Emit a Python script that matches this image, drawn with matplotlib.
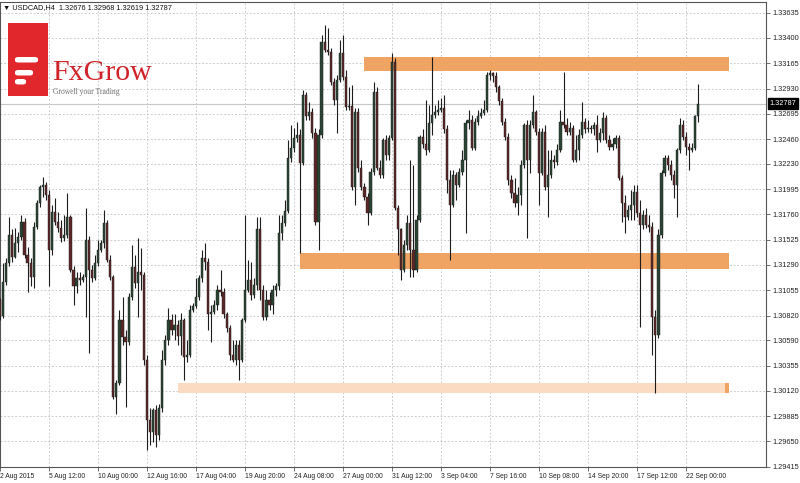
import matplotlib
matplotlib.use("Agg")
import matplotlib.pyplot as plt
import numpy as np
from matplotlib.patches import Rectangle, FancyBboxPatch

# ---- data ----
title_text = "\u25bc USDCAD,H4  1.32676 1.32968 1.32619 1.32787"
last_price = 1.32787

open_ = np.array([
    1.3096, 1.3082, 1.3113, 1.3131, 1.3157, 1.3136, 1.3149, 1.3155, 1.3169, 1.3138,
    1.3131, 1.3118, 1.3164, 1.3187, 1.3201, 1.3203, 1.3194, 1.3143, 1.3178, 1.3169,
    1.3163, 1.3154, 1.3157, 1.3174, 1.3124, 1.3109, 1.3117, 1.3115, 1.3118, 1.3152,
    1.3124, 1.3117, 1.3131, 1.3143, 1.3149, 1.3168, 1.3134, 1.3118, 1.3006, 1.3019,
    1.3078, 1.3062, 1.3057, 1.3099, 1.3127, 1.3112, 1.3122, 1.3120, 1.3041, 1.2985,
    1.2974, 1.2994, 1.2971, 1.2996, 1.3041, 1.3059, 1.3078, 1.3069, 1.3073, 1.3063,
    1.3078, 1.3043, 1.3045, 1.3087, 1.3091, 1.3099, 1.3117, 1.3135, 1.3132, 1.3083,
    1.3085, 1.3092, 1.3106, 1.3104, 1.3083, 1.3070, 1.3045, 1.3041, 1.3055, 1.3041,
    1.3078, 1.3106, 1.3115, 1.3101, 1.3110, 1.3162, 1.3106, 1.3081, 1.3096, 1.3092,
    1.3106, 1.3109, 1.3159, 1.3168, 1.3179, 1.3228, 1.3238, 1.3247, 1.3250, 1.3224,
    1.3287, 1.3267, 1.3271, 1.3252, 1.3169, 1.3250, 1.3336, 1.3329, 1.3327, 1.3299,
    1.3282, 1.3301, 1.3326, 1.3304, 1.3276, 1.3277, 1.3201, 1.3271, 1.3219, 1.3201,
    1.3192, 1.3177, 1.3215, 1.3290, 1.3219, 1.3213, 1.3245, 1.3231, 1.3247, 1.3318,
    1.3182, 1.3162, 1.3124, 1.3148, 1.3168, 1.3143, 1.3124, 1.3171, 1.3248, 1.3241,
    1.3236, 1.3261, 1.3268, 1.3271, 1.3273, 1.3275, 1.3255, 1.3208, 1.3185, 1.3213,
    1.3203, 1.3215, 1.3227, 1.3261, 1.3264, 1.3238, 1.3262, 1.3267, 1.3270, 1.3273,
    1.3306, 1.3307, 1.3305, 1.3294, 1.3281, 1.3262, 1.3248, 1.3208, 1.3196, 1.3187,
    1.3194, 1.3222, 1.3259, 1.3227, 1.3259, 1.3271, 1.3253, 1.3214, 1.3253, 1.3201,
    1.3213, 1.3227, 1.3225, 1.3236, 1.3262, 1.3259, 1.3253, 1.3256, 1.3227, 1.3236,
    1.3250, 1.3262, 1.3255, 1.3256, 1.3255, 1.3259, 1.3245, 1.3252, 1.3266, 1.3245,
    1.3239, 1.3241, 1.3247, 1.3210, 1.3187, 1.3174, 1.3180, 1.3185, 1.3197, 1.3177,
    1.3166, 1.3175, 1.3166, 1.3164, 1.3081, 1.3064, 1.3157, 1.3214, 1.3228, 1.3222,
    1.3213, 1.3203, 1.3236, 1.3259, 1.3248, 1.3239, 1.3236, 1.3238, 1.32676,
])
high = np.array([
    1.3098, 1.3131, 1.3135, 1.3174, 1.3162, 1.3163, 1.3160, 1.3175, 1.3173, 1.3146,
    1.3135, 1.3169, 1.3189, 1.3203, 1.3211, 1.3206, 1.3199, 1.3185, 1.3191, 1.3178,
    1.3171, 1.3175, 1.3196, 1.3175, 1.3128, 1.3122, 1.3122, 1.3121, 1.3182, 1.3156,
    1.3129, 1.3138, 1.3152, 1.3152, 1.3180, 1.3171, 1.3138, 1.3120, 1.3022, 1.3087,
    1.3099, 1.3069, 1.3103, 1.3148, 1.3138, 1.3154, 1.3145, 1.3122, 1.3045, 1.2996,
    1.2996, 1.2999, 1.3000, 1.3050, 1.3064, 1.3089, 1.3083, 1.3083, 1.3078, 1.3084,
    1.3080, 1.3059, 1.3092, 1.3094, 1.3117, 1.3120, 1.3143, 1.3149, 1.3135, 1.3092,
    1.3096, 1.3110, 1.3124, 1.3108, 1.3085, 1.3073, 1.3059, 1.3059, 1.3059, 1.3080,
    1.3175, 1.3134, 1.3132, 1.3117, 1.3174, 1.3174, 1.3110, 1.3106, 1.3104, 1.3110,
    1.3112, 1.3175, 1.3175, 1.3189, 1.3245, 1.3259, 1.3256, 1.3262, 1.3255, 1.3292,
    1.3290, 1.3280, 1.3275, 1.3256, 1.3255, 1.3343, 1.3352, 1.3349, 1.3331, 1.3303,
    1.3306, 1.3338, 1.3343, 1.3310, 1.3294, 1.3296, 1.3275, 1.3275, 1.3227, 1.3205,
    1.3196, 1.3219, 1.3299, 1.3294, 1.3227, 1.3247, 1.3250, 1.3250, 1.3326, 1.3321,
    1.3185, 1.3163, 1.3152, 1.3175, 1.3227, 1.3222, 1.3175, 1.3250, 1.3255, 1.3282,
    1.3278, 1.3322, 1.3278, 1.3282, 1.3284, 1.3287, 1.3259, 1.3217, 1.3217, 1.3215,
    1.3219, 1.3236, 1.3264, 1.3273, 1.3268, 1.3266, 1.3273, 1.3275, 1.3282, 1.3308,
    1.3310, 1.3308, 1.3308, 1.3296, 1.3284, 1.3266, 1.3252, 1.3213, 1.3210, 1.3201,
    1.3227, 1.3261, 1.3264, 1.3264, 1.3287, 1.3273, 1.3256, 1.3256, 1.3259, 1.3236,
    1.3236, 1.3231, 1.3241, 1.3273, 1.3308, 1.3266, 1.3262, 1.3259, 1.3250, 1.3255,
    1.3280, 1.3266, 1.3264, 1.3259, 1.3262, 1.3268, 1.3256, 1.3271, 1.3268, 1.3250,
    1.3247, 1.3250, 1.3250, 1.3213, 1.3194, 1.3185, 1.3199, 1.3203, 1.3203, 1.3189,
    1.3180, 1.3182, 1.3175, 1.3169, 1.3087, 1.3162, 1.3217, 1.3231, 1.3231, 1.3227,
    1.3217, 1.3238, 1.3266, 1.3264, 1.3253, 1.3242, 1.3242, 1.3268, 1.32968,
])
low = np.array([
    1.3078, 1.3080, 1.3110, 1.3128, 1.3132, 1.3135, 1.3141, 1.3152, 1.3135, 1.3104,
    1.3109, 1.3108, 1.3162, 1.3183, 1.3192, 1.3189, 1.3109, 1.3138, 1.3166, 1.3160,
    1.3150, 1.3151, 1.3154, 1.3122, 1.3092, 1.3103, 1.3110, 1.3113, 1.3081, 1.3047,
    1.3113, 1.3115, 1.3128, 1.3141, 1.3145, 1.3132, 1.3115, 1.3004, 1.2990, 1.3017,
    1.3055, 1.2997, 1.3055, 1.3096, 1.3108, 1.3081, 1.3106, 1.3036, 1.2957, 1.2962,
    1.2964, 1.2960, 1.2966, 1.2992, 1.3036, 1.3055, 1.3064, 1.3059, 1.3055, 1.3045,
    1.3022, 1.3039, 1.3043, 1.3085, 1.3089, 1.3096, 1.3113, 1.3124, 1.3069, 1.3057,
    1.3083, 1.3087, 1.3100, 1.3080, 1.3067, 1.3041, 1.3039, 1.3036, 1.3022, 1.3039,
    1.3076, 1.3104, 1.3096, 1.3098, 1.3106, 1.3096, 1.3078, 1.3078, 1.3087, 1.3083,
    1.3100, 1.3106, 1.3152, 1.3165, 1.3177, 1.3225, 1.3234, 1.3243, 1.3140, 1.3222,
    1.3264, 1.3264, 1.3247, 1.3166, 1.3143, 1.3247, 1.3327, 1.3324, 1.3296, 1.3278,
    1.3252, 1.3299, 1.3301, 1.3273, 1.3273, 1.3199, 1.3185, 1.3215, 1.3199, 1.3189,
    1.3166, 1.3175, 1.3213, 1.3217, 1.3210, 1.3210, 1.3227, 1.3227, 1.3245, 1.3180,
    1.3138, 1.3115, 1.3122, 1.3143, 1.3118, 1.3118, 1.3122, 1.3169, 1.3238, 1.3231,
    1.3234, 1.3250, 1.3266, 1.3268, 1.3271, 1.3252, 1.3196, 1.3134, 1.3183, 1.3189,
    1.3201, 1.3213, 1.3159, 1.3255, 1.3236, 1.3236, 1.3259, 1.3266, 1.3268, 1.3271,
    1.3301, 1.3299, 1.3290, 1.3278, 1.3259, 1.3245, 1.3203, 1.3191, 1.3183, 1.3175,
    1.3185, 1.3219, 1.3154, 1.3214, 1.3256, 1.3250, 1.3185, 1.3213, 1.3199, 1.3174,
    1.3210, 1.3219, 1.3222, 1.3234, 1.3256, 1.3250, 1.3250, 1.3225, 1.3225, 1.3227,
    1.3247, 1.3252, 1.3253, 1.3252, 1.3250, 1.3234, 1.3243, 1.3245, 1.3242, 1.3236,
    1.3236, 1.3238, 1.3208, 1.3169, 1.3159, 1.3171, 1.3171, 1.3171, 1.3174, 1.3071,
    1.3162, 1.3163, 1.3160, 1.3045, 1.3010, 1.3061, 1.3154, 1.3212, 1.3217, 1.3208,
    1.3191, 1.3174, 1.3233, 1.3245, 1.3231, 1.3217, 1.3234, 1.3236, 1.32619,
])
close = np.array([
    1.3082, 1.3113, 1.3131, 1.3157, 1.3136, 1.3149, 1.3155, 1.3169, 1.3138, 1.3131,
    1.3118, 1.3164, 1.3187, 1.3201, 1.3203, 1.3194, 1.3143, 1.3178, 1.3169, 1.3163,
    1.3154, 1.3157, 1.3174, 1.3124, 1.3109, 1.3117, 1.3115, 1.3118, 1.3152, 1.3124,
    1.3117, 1.3131, 1.3143, 1.3149, 1.3168, 1.3134, 1.3118, 1.3006, 1.3019, 1.3078,
    1.3062, 1.3057, 1.3099, 1.3127, 1.3112, 1.3122, 1.3120, 1.3041, 1.2985, 1.2974,
    1.2994, 1.2971, 1.2996, 1.3041, 1.3059, 1.3078, 1.3069, 1.3073, 1.3063, 1.3078,
    1.3043, 1.3045, 1.3087, 1.3091, 1.3099, 1.3117, 1.3135, 1.3132, 1.3083, 1.3085,
    1.3092, 1.3106, 1.3104, 1.3083, 1.3070, 1.3045, 1.3041, 1.3055, 1.3041, 1.3078,
    1.3106, 1.3115, 1.3101, 1.3110, 1.3162, 1.3106, 1.3081, 1.3096, 1.3092, 1.3106,
    1.3109, 1.3159, 1.3168, 1.3179, 1.3228, 1.3238, 1.3247, 1.3250, 1.3224, 1.3287,
    1.3267, 1.3271, 1.3252, 1.3169, 1.3250, 1.3336, 1.3329, 1.3327, 1.3299, 1.3282,
    1.3301, 1.3326, 1.3304, 1.3276, 1.3277, 1.3201, 1.3271, 1.3219, 1.3201, 1.3192,
    1.3177, 1.3215, 1.3290, 1.3219, 1.3213, 1.3245, 1.3231, 1.3247, 1.3318, 1.3182,
    1.3162, 1.3124, 1.3148, 1.3168, 1.3143, 1.3124, 1.3171, 1.3248, 1.3241, 1.3236,
    1.3261, 1.3268, 1.3271, 1.3273, 1.3275, 1.3255, 1.3208, 1.3185, 1.3213, 1.3203,
    1.3215, 1.3227, 1.3261, 1.3264, 1.3238, 1.3262, 1.3267, 1.3270, 1.3273, 1.3306,
    1.3307, 1.3305, 1.3294, 1.3281, 1.3262, 1.3248, 1.3208, 1.3196, 1.3187, 1.3194,
    1.3222, 1.3259, 1.3227, 1.3259, 1.3271, 1.3253, 1.3214, 1.3253, 1.3201, 1.3213,
    1.3227, 1.3225, 1.3236, 1.3262, 1.3259, 1.3253, 1.3256, 1.3227, 1.3236, 1.3250,
    1.3262, 1.3255, 1.3256, 1.3255, 1.3259, 1.3245, 1.3252, 1.3266, 1.3245, 1.3239,
    1.3241, 1.3247, 1.3210, 1.3187, 1.3174, 1.3180, 1.3185, 1.3197, 1.3177, 1.3166,
    1.3175, 1.3166, 1.3164, 1.3081, 1.3064, 1.3157, 1.3214, 1.3228, 1.3222, 1.3213,
    1.3203, 1.3236, 1.3259, 1.3248, 1.3239, 1.3236, 1.3238, 1.3267, 1.32787,
])

time_labels = ["2 Aug 2015", "5 Aug 12:00", "10 Aug 00:00", "12 Aug 16:00",
               "17 Aug 04:00", "19 Aug 20:00", "24 Aug 08:00", "27 Aug 00:00",
               "31 Aug 12:00", "3 Sep 04:00", "7 Sep 16:00", "10 Sep 08:00",
               "14 Sep 20:00", "17 Sep 12:00", "22 Sep 00:00"]
time_label_bars = [0, 16, 32, 48, 64, 80, 96, 112, 128, 144, 160, 176, 192, 208, 224]

price_ticks = [1.33635, 1.33400, 1.33165, 1.32930, 1.32695, 1.32460, 1.32230,
               1.31995, 1.31760, 1.31525, 1.31290, 1.31055, 1.30820, 1.30590,
               1.30355, 1.30120, 1.29885, 1.29650, 1.29415]

# support / resistance zones: (first bar, last bar, low price, high price)
zone_resistance = (118.9, 238.0, 1.3309, 1.3322)
zone_support = (98.0, 238.0, 1.3125, 1.3140)
zone_low = (58.1, 238.0, 1.3010, 1.3019)

BULL = "#2a4533"
BEAR = "#5c2727"
WICK = "#1c1c1c"
ZONE = "#f0a463"
ZONE_LIGHT = "#fbdcc2"
GRID = "#c4c4c4"
LABEL_FONT = "Liberation Sans"

fig = plt.figure(figsize=(8, 4.83), dpi=100)
fig.patch.set_facecolor("white")
ax = fig.add_axes([0, 16 / 483, 766 / 800, 465 / 483])

# zones sit behind the candles
for x0, x1, lo, hi in (zone_resistance, zone_support):
    ax.add_patch(Rectangle((x0, lo), x1 - x0, hi - lo, facecolor=ZONE,
                           edgecolor="none", zorder=1))
x0, x1, lo, hi = zone_low
ax.add_patch(Rectangle((x0, lo), x1 - x0, hi - lo, facecolor=ZONE_LIGHT,
                       edgecolor="none", zorder=1))
ax.add_patch(Rectangle((x1 - 1.2, lo), 1.2, hi - lo, facecolor=ZONE,
                       edgecolor="none", zorder=1))

# candles
bars = np.arange(len(close))
body_low = np.minimum(open_, close)
body_h = np.maximum(np.abs(close - open_), 0.00004)
rising = close >= open_
ax.vlines(bars, low, high, colors=WICK, linewidth=0.8, zorder=3)
ax.bar(bars[rising], body_h[rising], bottom=body_low[rising], width=0.72,
       color=BULL, edgecolor=WICK, linewidth=0.3, zorder=4)
ax.bar(bars[~rising], body_h[~rising], bottom=body_low[~rising], width=0.72,
       color=BEAR, edgecolor=WICK, linewidth=0.3, zorder=4)

# last price line and marker
ax.axhline(last_price, color="#c8c8c8", linewidth=0.8, zorder=2)
ax.annotate(f"{last_price:.5f}", xy=(1, last_price),
            xycoords=("axes fraction", "data"), xytext=(2.6, 0),
            textcoords="offset points", ha="left", va="center",
            fontsize=5.3, family=LABEL_FONT, color="white",
            bbox=dict(boxstyle="square,pad=0.28", fc="black", ec="black"),
            annotation_clip=False, zorder=10)

ax.set_xlim(0, 766 / 3.0625)
ax.set_ylim(1.29412, 1.33734)

ax.set_xticks(time_label_bars)
ax.set_xticklabels(time_labels, fontsize=4.9, family=LABEL_FONT, ha="left")
ax.set_yticks(price_ticks)
ax.set_yticklabels([f"{v:.5f}" for v in price_ticks], fontsize=5.3,
                   family=LABEL_FONT)
ax.yaxis.tick_right()
ax.tick_params(axis="both", length=3, width=0.6, color="#555555",
               labelcolor="#222222", pad=1.5)
ax.grid(True, linestyle=(0, (2.2, 2.2)), color=GRID, linewidth=0.6, zorder=0)
ax.set_axisbelow(True)
for spine in ax.spines.values():
    spine.set_color("#555555")
    spine.set_linewidth(0.8)

fig.text(3 / 800, 1 - 8 / 483, title_text, fontsize=5.3, family=LABEL_FONT,
         color="#111111", va="center", ha="left")

# FxGrow logo, top left
fig.add_artist(Rectangle((8 / 800, 1 - 96 / 483), 40 / 800, 73 / 483,
                         transform=fig.transFigure, facecolor="#e1262c",
                         edgecolor="none"))
for ytop, xr in ((57, 38), (70, 33), (79, 26)):
    fig.add_artist(FancyBboxPatch((15 / 800, 1 - (ytop + 5.5) / 483),
                                  (xr - 15) / 800, 5.5 / 483,
                                  boxstyle="round,pad=0,rounding_size=0.004",
                                  transform=fig.transFigure,
                                  facecolor="white", edgecolor="none"))
fig.text(52 / 800, 1 - 80 / 483, "FxGrow", fontsize=21.5, family="Liberation Serif",
         color="#cf2329", va="baseline", ha="left")
fig.text(53 / 800, 1 - 94 / 483, "Growell your Trading", fontsize=5.5,
         family="Liberation Serif", color="#6f6f6f", va="baseline", ha="left")

fig.savefig("out.png", dpi=100, facecolor="white")
plt.close(fig)
